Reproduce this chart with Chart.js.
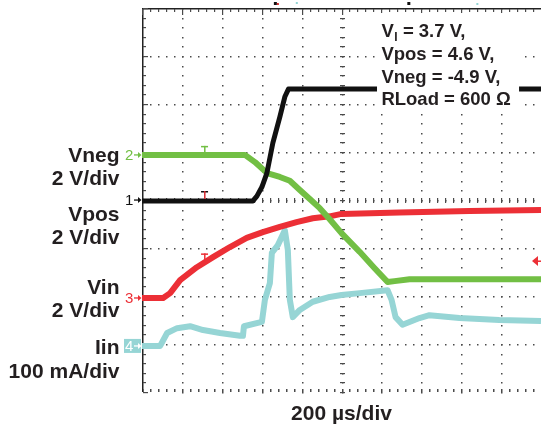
<!DOCTYPE html>
<html>
<head>
<meta charset="utf-8">
<script src="https://cdn.jsdelivr.net/npm/chart.js@4.4.1/dist/chart.umd.min.js"></script>
<style>
  html, body { margin: 0; padding: 0; background: #fff; }
  #wrap { width: 541px; height: 428px; position: relative; }
</style>
</head>
<body>
<div id="wrap"><canvas id="scope"></canvas></div>
<script>
// time in microseconds (200 us/div, 10 div), level in divisions (-4..4)
const ch1Time = [0, 556, 576, 601, 626, 656, 691, 716, 734, 2000];
const ch1Div  = [-0.02, -0.02, 0.08, 0.27, 0.56, 1.19, 1.73, 2.15, 2.31, 2.31];

const ch2Time = [0, 516, 566, 627, 691, 741, 791, 841, 891, 941, 1000, 1091, 1166, 1231, 1266, 1341, 2000];
const ch2Div  = [0.94, 0.94, 0.79, 0.56, 0.48, 0.40, 0.21, 0.02, -0.17, -0.40, -0.69, -1.08, -1.42, -1.71, -1.69, -1.65, -1.65];

const ch3Time = [0, 106, 141, 191, 275, 356, 441, 525, 606, 691, 775, 856, 941, 1000, 1291, 1641, 2000];
const ch3Div  = [-2.04, -2.04, -1.94, -1.67, -1.40, -1.19, -0.98, -0.79, -0.67, -0.56, -0.46, -0.38, -0.34, -0.29, -0.26, -0.23, -0.21];

const ch4Time = [0, 91, 126, 176, 241, 306, 391, 491, 506, 511, 601, 616, 641, 651, 681, 716, 731, 741, 756, 791, 856, 941, 1000, 1091, 1231, 1251, 1271, 1306, 1391, 1441, 1591, 1791, 2000];
const ch4Div  = [-3.04, -3.04, -2.77, -2.67, -2.63, -2.71, -2.77, -2.83, -2.83, -2.63, -2.54, -2.08, -1.73, -1.10, -0.94, -0.63, -1.04, -2.08, -2.44, -2.29, -2.12, -2.02, -1.98, -1.94, -1.88, -2.08, -2.44, -2.60, -2.46, -2.40, -2.46, -2.50, -2.52];

// channel ground markers on the left edge
const chNames   = ['1', '2', '3', '4'];
const chOffsets = [0, 0.94, -2.04, -3.04];
const chColors  = ['#111111', '#72bf44', '#ec2f36', '#96d5d5'];

// left-hand labels
const sideLabels = [
  ['Vneg', '2 V/div'],
  ['Vpos', '2 V/div'],
  ['Vin', '2 V/div'],
  ['Iin', '100 mA/div']
];
const conditions = ['= 3.7 V,', 'Vpos = 4.6 V,', 'Vneg = -4.9 V,', 'RLoad = 600 \u03A9'];
const timeLabel = '200 \u00B5s/div';

const trigTime = 311;
const trigLevels = [0, 0.94, -1.30];
const rightMarkLevel = -1.27;

function pts(t, v) {
  return t.map((tt, i) => ({ x: tt, y: v[i] }));
}

const graticule = {
  id: 'graticule',
  beforeDatasetsDraw(chart) {
    const { ctx, chartArea: a, scales: { x, y } } = chart;
    ctx.save();
    ctx.fillStyle = '#4a4a4a';
    const minX = [], minY = [];
    for (let i = 0; i <= 50; i++) minX.push(Math.round(x.getPixelForValue(i * 40)));
    for (let j = 0; j <= 40; j++) minY.push(Math.round(y.getPixelForValue(-4 + j * 0.2)));
    // dotted horizontal lines (bottom edge gets small ticks)
    for (let j = 0; j < 8; j++) {
      const py = Math.round(y.getPixelForValue(-4 + j));
      if (j === 0) {
        minX.forEach(px => ctx.fillRect(px, py - 3, 1.5, 3));
        continue;
      }
      minX.forEach(px => ctx.fillRect(px, py, 1.5, 1.5));
    }
    // dotted vertical lines
    for (let i = 1; i < 10; i++) {
      const px = Math.round(x.getPixelForValue(i * 200));
      minY.forEach(py => ctx.fillRect(px, py, 1.5, 1.5));
    }
    // centre ticks
    const cx = Math.round(x.getPixelForValue(1000));
    const cy = Math.round(y.getPixelForValue(0));
    minY.forEach(py => ctx.fillRect(cx - 2, py, 5, 1.2));
    minX.forEach(px => ctx.fillRect(px, cy - 2, 1.2, 5));
    // left and top solid edges
    ctx.fillStyle = '#222';
    ctx.fillRect(Math.round(a.left), Math.round(a.top), 1.5, Math.round(a.bottom - a.top));
    ctx.fillRect(Math.round(a.left), Math.round(a.top), Math.round(a.right - a.left), 1.5);
    ctx.fillStyle = '#4a4a4a';
    minY.forEach((py, j) => ctx.fillRect(Math.round(a.left) + 1, py, j % 5 === 0 ? 5 : 3, 1.2));
    minX.forEach((px, i) => ctx.fillRect(px, Math.round(a.top) + 1, 1.2, i % 5 === 0 ? 6 : 3));
    ctx.restore();
  }
};

const overlay = {
  id: 'overlay',
  afterDatasetsDraw(chart) {
    const { ctx, chartArea: a, scales: { x, y } } = chart;
    ctx.save();
    // white box behind the conditions text
    ctx.fillStyle = '#fff';
    ctx.fillRect(x.getPixelForValue(1178), a.top + 5, x.getPixelForValue(1890) - x.getPixelForValue(1178), 98);

    ctx.fillStyle = '#231f20';
    ctx.textBaseline = 'alphabetic';
    ctx.textAlign = 'left';
    const tx = x.getPixelForValue(1200);
    ctx.font = 'bold 18.5px "Liberation Sans", Arial, sans-serif';
    ctx.fillText('V', tx, 37);
    const vw = ctx.measureText('V').width;
    ctx.font = 'bold 12px "Liberation Sans", Arial, sans-serif';
    ctx.fillText('I', tx + vw + 0.5, 40.5);
    ctx.font = 'bold 18.5px "Liberation Sans", Arial, sans-serif';
    ctx.fillText(' ' + conditions[0], tx + vw + 4, 37);
    ctx.fillText(conditions[1], tx, 60);
    ctx.fillText(conditions[2], tx, 82.5);
    ctx.fillText(conditions[3], tx, 105);

    // trigger "T" markers
    const tpx = x.getPixelForValue(trigTime);
    [chColors[0], chColors[1], chColors[2]].forEach((c, k) => {
      const py = y.getPixelForValue(trigLevels[k]);
      ctx.fillStyle = c;
      ctx.fillRect(tpx - 3, py - 9, 7, 1.5);
      ctx.fillStyle = k === 0 ? '#d62a30' : c;
      ctx.fillRect(tpx, py - 9, 1.5, 8);
    });

    // red level marker at right edge
    const ry = y.getPixelForValue(rightMarkLevel);
    ctx.fillStyle = chColors[2];
    ctx.beginPath();
    ctx.moveTo(a.right - 9, ry);
    ctx.lineTo(a.right - 3, ry - 5);
    ctx.lineTo(a.right - 3, ry + 5);
    ctx.closePath();
    ctx.fill();
    ctx.fillRect(a.right - 4, ry - 0.5, 4, 1.5);

    // small marks above the graticule
    ctx.fillStyle = '#111';
    ctx.fillRect(x.getPixelForValue(661), 2, 3, 3);
    ctx.fillRect(x.getPixelForValue(1330), 2, 3, 3);
    ctx.fillStyle = '#d62a30';
    ctx.fillRect(x.getPixelForValue(661) + 3, 3, 2, 2);
    ctx.fillStyle = '#96d5d5';
    ctx.fillRect(x.getPixelForValue(771), 2, 2, 2);
    ctx.fillRect(x.getPixelForValue(1676), 3, 2, 2);
    ctx.restore();
  },
  afterDraw(chart) {
    const { ctx, chartArea: a, scales: { x, y } } = chart;
    ctx.save();
    // channel ground markers
    ctx.font = '15px "Liberation Sans", Arial, sans-serif';
    ctx.textBaseline = 'middle';
    ctx.textAlign = 'left';
    chNames.forEach((n, k) => {
      const py = y.getPixelForValue(chOffsets[k]);
      const c = chColors[k];
      if (k === 3) {
        ctx.fillStyle = c;
        ctx.fillRect(a.left - 18, py - 7, 17, 14);
        ctx.fillStyle = '#fff';
      } else {
        ctx.fillStyle = c;
      }
      ctx.fillText(n, a.left - 17, py + 0.5);
      ctx.fillRect(a.left - 8, py - 0.6, 5, 1.3);
      ctx.beginPath();
      ctx.moveTo(a.left - 0.5, py);
      ctx.lineTo(a.left - 4, py - 3);
      ctx.lineTo(a.left - 4, py + 3);
      ctx.closePath();
      ctx.fill();
    });

    // side labels
    ctx.fillStyle = '#231f20';
    ctx.font = 'bold 21px "Liberation Sans", Arial, sans-serif';
    ctx.textAlign = 'right';
    ctx.textBaseline = 'alphabetic';
    const baselines = [[162, 185], [221, 243.5], [293.5, 317], [354, 377.5]];
    sideLabels.forEach((pair, k) => {
      ctx.fillText(pair[0], 119.5, baselines[k][0]);
      ctx.fillText(pair[1], 119.5, baselines[k][1]);
    });

    // time base label
    ctx.textAlign = 'center';
    ctx.fillText(timeLabel, x.getPixelForValue(1000), 420);
    ctx.restore();
  }
};

const ctx = document.getElementById('scope').getContext('2d');
new Chart(ctx, {
  type: 'line',
  data: {
    datasets: [
      { label: 'ch1', data: pts(ch1Time, ch1Div), borderColor: chColors[0], borderWidth: 5 },
      { label: 'ch2', data: pts(ch2Time, ch2Div), borderColor: chColors[1], borderWidth: 6 },
      { label: 'ch3', data: pts(ch3Time, ch3Div), borderColor: chColors[2], borderWidth: 6 },
      { label: 'ch4', data: pts(ch4Time, ch4Div), borderColor: chColors[3], borderWidth: 6 }
    ]
  },
  options: {
    responsive: true,
    maintainAspectRatio: false,
    animation: false,
    devicePixelRatio: 1,
    layout: { padding: { left: 142, top: 8, right: 0, bottom: 36 } },
    elements: { point: { radius: 0 }, line: { tension: 0, borderJoinStyle: 'round', borderCapStyle: 'butt' } },
    scales: {
      x: { type: 'linear', min: 0, max: 2000, display: false },
      y: { type: 'linear', min: -4, max: 4, display: false }
    },
    plugins: { legend: { display: false }, tooltip: { enabled: false } }
  },
  plugins: [graticule, overlay]
});
</script>
</body>
</html>
